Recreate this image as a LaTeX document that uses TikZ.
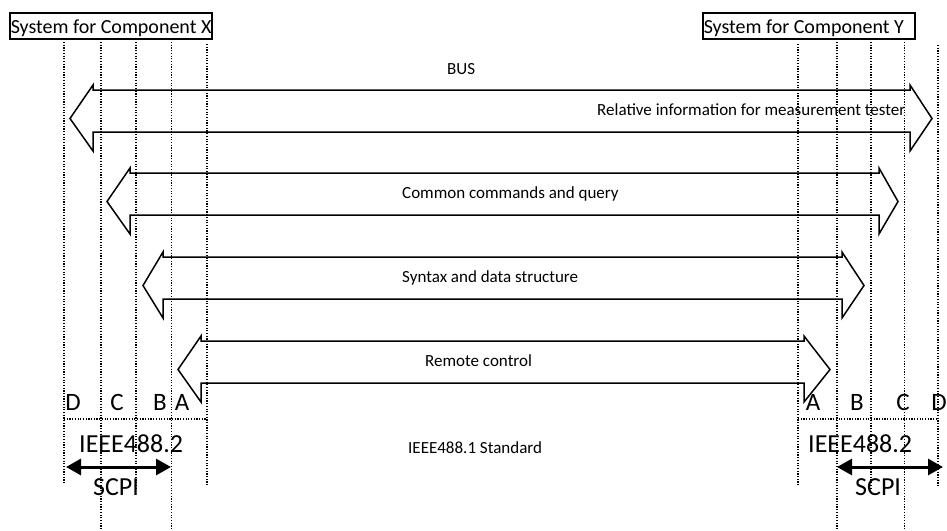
\documentclass[tikz,border=0pt]{standalone}
\usepackage{fontspec}
\setmainfont{Carlito}
\usetikzlibrary{arrows.meta}
\newcommand\blkarr[5]{% xl xr yt tipL tipR
  \draw[blk] (#4,#3+28.5) -- (#1,#3-5) -- (#1,#3) -- (#2,#3) -- (#2,#3-5) -- (#5,#3+28.5) -- (#2,#3+61) -- (#2,#3+42) -- (#1,#3+42) -- (#1,#3+61) -- cycle;}
\begin{document}
\begin{tikzpicture}[x=1pt,y=-1pt,
  dotln/.style={line width=1.2pt, dash pattern=on 1.2pt off 1.5pt},
  blk/.style={line width=1.5pt, line join=miter},
  small/.style={font=\fontsize{17}{20}\selectfont, inner sep=0pt, anchor=base west},
  big/.style={font=\fontsize{26}{30}\selectfont, inner sep=0pt, anchor=base west},
  letter/.style={font=\fontsize{25}{30}\selectfont, inner sep=0pt, anchor=base},
  title/.style={draw, line width=1.5pt, font=\fontsize{20}{24}\selectfont, text height=20pt, text depth=6pt, inner ysep=0pt, inner xsep=1pt, anchor=base west},
  scpi/.style={line width=3pt, {Triangle[length=15pt,width=16pt]}-{Triangle[length=15pt,width=16pt]}}
]
\useasboundingbox (0,0) rectangle (947,530);

% titles
\node[title] (sysx) at (9,33) {\makebox[200pt][l]{System for Component X}};
\node[title] (sysy) at (702,33) {\makebox[210pt][l]{System for Component Y}};

% dotted vertical lines, left
\draw[dotln] (64,42) -- (64,484);
\draw[dotln] (101,42) -- (101,530);
\draw[dotln] (136,42) -- (136,488);
\draw[dotln] (171.5,42) -- (171.5,530);
\draw[dotln] (207,44) -- (207,486);
% dotted vertical lines, right
\draw[dotln] (798,44) -- (798,486);
\draw[dotln] (837,42) -- (837,530);
\draw[dotln] (871,42) -- (871,488);
\draw[dotln] (904.5,42) -- (904.5,530);
\draw[dotln] (938,45) -- (938,486);
% dotted horizontal lines
\draw[dotln] (64,419) -- (207,419);
\draw[dotln] (798,419) -- (938,419);

% block arrows
\blkarr{93}{910}{90}{70}{932}
\blkarr{130}{879}{173}{107}{898}
\blkarr{163}{842}{257}{143}{864}
\blkarr{201}{804}{341}{178}{830}

% labels
\node[small] (bus) at (447,74) {BUS};
\node[small] (rel) at (597,115) {Relative information for measurement tester};
\node[small] (cmd) at (402,198) {Common commands and query};
\node[small] (syn) at (402,282) {Syntax and data structure};
\node[small] (rem) at (425,366) {Remote control};
\node[small] (std) at (408,453) {IEEE488.1 Standard};

% letters
\node[letter] (dl) at (73,410) {D};
\node[letter] (cl) at (117,410) {C};
\node[letter] (bl) at (160,410) {B};
\node[letter] (al) at (182,410) {A};
\node[letter] (ar) at (813,410) {A};
\node[letter] (br) at (857,410) {B};
\node[letter] (cr) at (903,410) {C};
\node[letter] (dr) at (939,410) {D};

% IEEE488.2 and SCPI
\node[big] (iel) at (79,452) {IEEE488.2};
\node[big] (ier) at (808,452) {IEEE488.2};
\node[big] (scl) at (93,495) {SCPI};
\node[big] (scr) at (855,495) {SCPI};
\coordinate (sl1) at (66,467);
\coordinate (sl2) at (171,467);
\coordinate (sr1) at (837,467);
\coordinate (sr2) at (943,467);
\draw[scpi] (sl1) -- (sl2);
\draw[scpi] (sr1) -- (sr2);
\end{tikzpicture}
\end{document}
